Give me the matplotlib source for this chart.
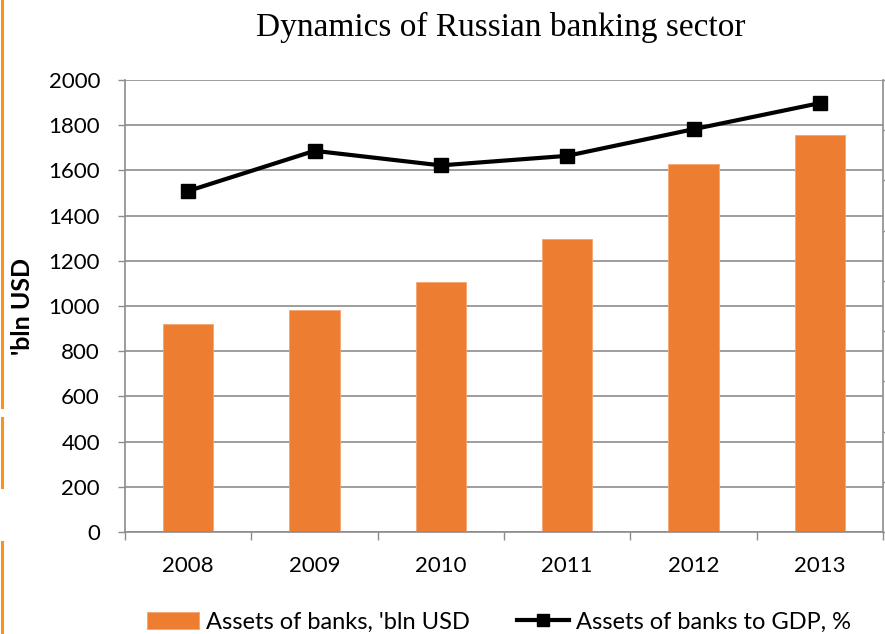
import numpy as np
import matplotlib
matplotlib.use("Agg")
import matplotlib.pyplot as plt
from matplotlib.lines import Line2D

plt.rcParams['font.family'] = ['Lato', 'DejaVu Sans']

## data
years = ["2008", "2009", "2010", "2011", "2012", "2013"]
assets_usd = [919, 981, 1105, 1295, 1628, 1757]          # 'bln USD
assets_to_gdp = [67.9, 75.9, 73.0, 74.9, 80.2, 85.4]     # %

bar_color = "#ED7D31"
grid_color = "#8C8C8C"

fig = plt.figure(figsize=(8.85, 6.34), dpi=100)
ax = fig.add_axes([125 / 885, 1 - 532 / 634, 758 / 885, 452 / 634])

x = np.arange(len(years))

## bars on the left axis
ax.bar(x, assets_usd, width=0.4, color=bar_color, edgecolor="#F4A574",
       linewidth=0.6, zorder=2, label="Assets of banks, 'bln USD")
ax.set_xlim(-0.5, len(years) - 0.5)
ax.set_ylim(0, 2000)
ax.set_yticks(range(0, 2001, 200))
ax.yaxis.grid(True, color=grid_color, linewidth=1.2)
ax.set_axisbelow(True)

ax.set_xticks(x)
ax.set_xticklabels(years)
ax.set_xticks(np.arange(-0.5, len(years)), minor=True)
ax.tick_params(axis="x", which="major", length=0, pad=17, labelsize=16)
ax.tick_params(axis="x", which="minor", length=5.5, width=1, color=grid_color)
ax.tick_params(axis="y", length=5, width=1, color=grid_color, pad=13,
               labelsize=16)

for side in ["top", "right"]:
    ax.spines[side].set_visible(False)
for side in ["left", "bottom"]:
    ax.spines[side].set_color(grid_color)
    ax.spines[side].set_linewidth(1.2)

ax.set_ylabel("'bln USD", fontsize=18, fontweight="bold", labelpad=10)

## line on the right axis
ax2 = ax.twinx()
ax2.plot(x, assets_to_gdp, color="black", linewidth=3, marker="s",
         markersize=9.5, zorder=3, label="Assets of banks to GDP, %")
ax2.set_ylim(0, 90)
ax2.set_yticks(range(0, 91, 10))
ax2.tick_params(axis="y", length=5, width=1, color=grid_color,
                labelright=False)
for side in ["top", "left", "bottom"]:
    ax2.spines[side].set_visible(False)
ax2.spines["right"].set_color(grid_color)
ax2.spines["right"].set_linewidth(1.2)

fig.text(501 / 885, 1 - 27 / 634, "Dynamics of Russian banking sector",
         ha="center", va="center", fontsize=24, family="Liberation Serif")

## legend under the plot
h1, l1 = ax.get_legend_handles_labels()
h2, l2 = ax2.get_legend_handles_labels()
fig.legend(h1 + h2, l1 + l2, loc="center", bbox_to_anchor=(499 / 885, 1 - 622 / 634),
           ncol=2, frameon=False, fontsize=17, handlelength=2.2,
           handletextpad=0.3, columnspacing=2.0, markerscale=0.9)

## orange edge strip along the left border
for y0, y1 in [(0, 407), (418, 487), (542, 634)]:
    fig.add_artist(Line2D([1.5 / 885, 1.5 / 885], [1 - y0 / 634, 1 - y1 / 634],
                          color="#F7941D", linewidth=2.2))

fig.savefig("out.png", dpi=100)
